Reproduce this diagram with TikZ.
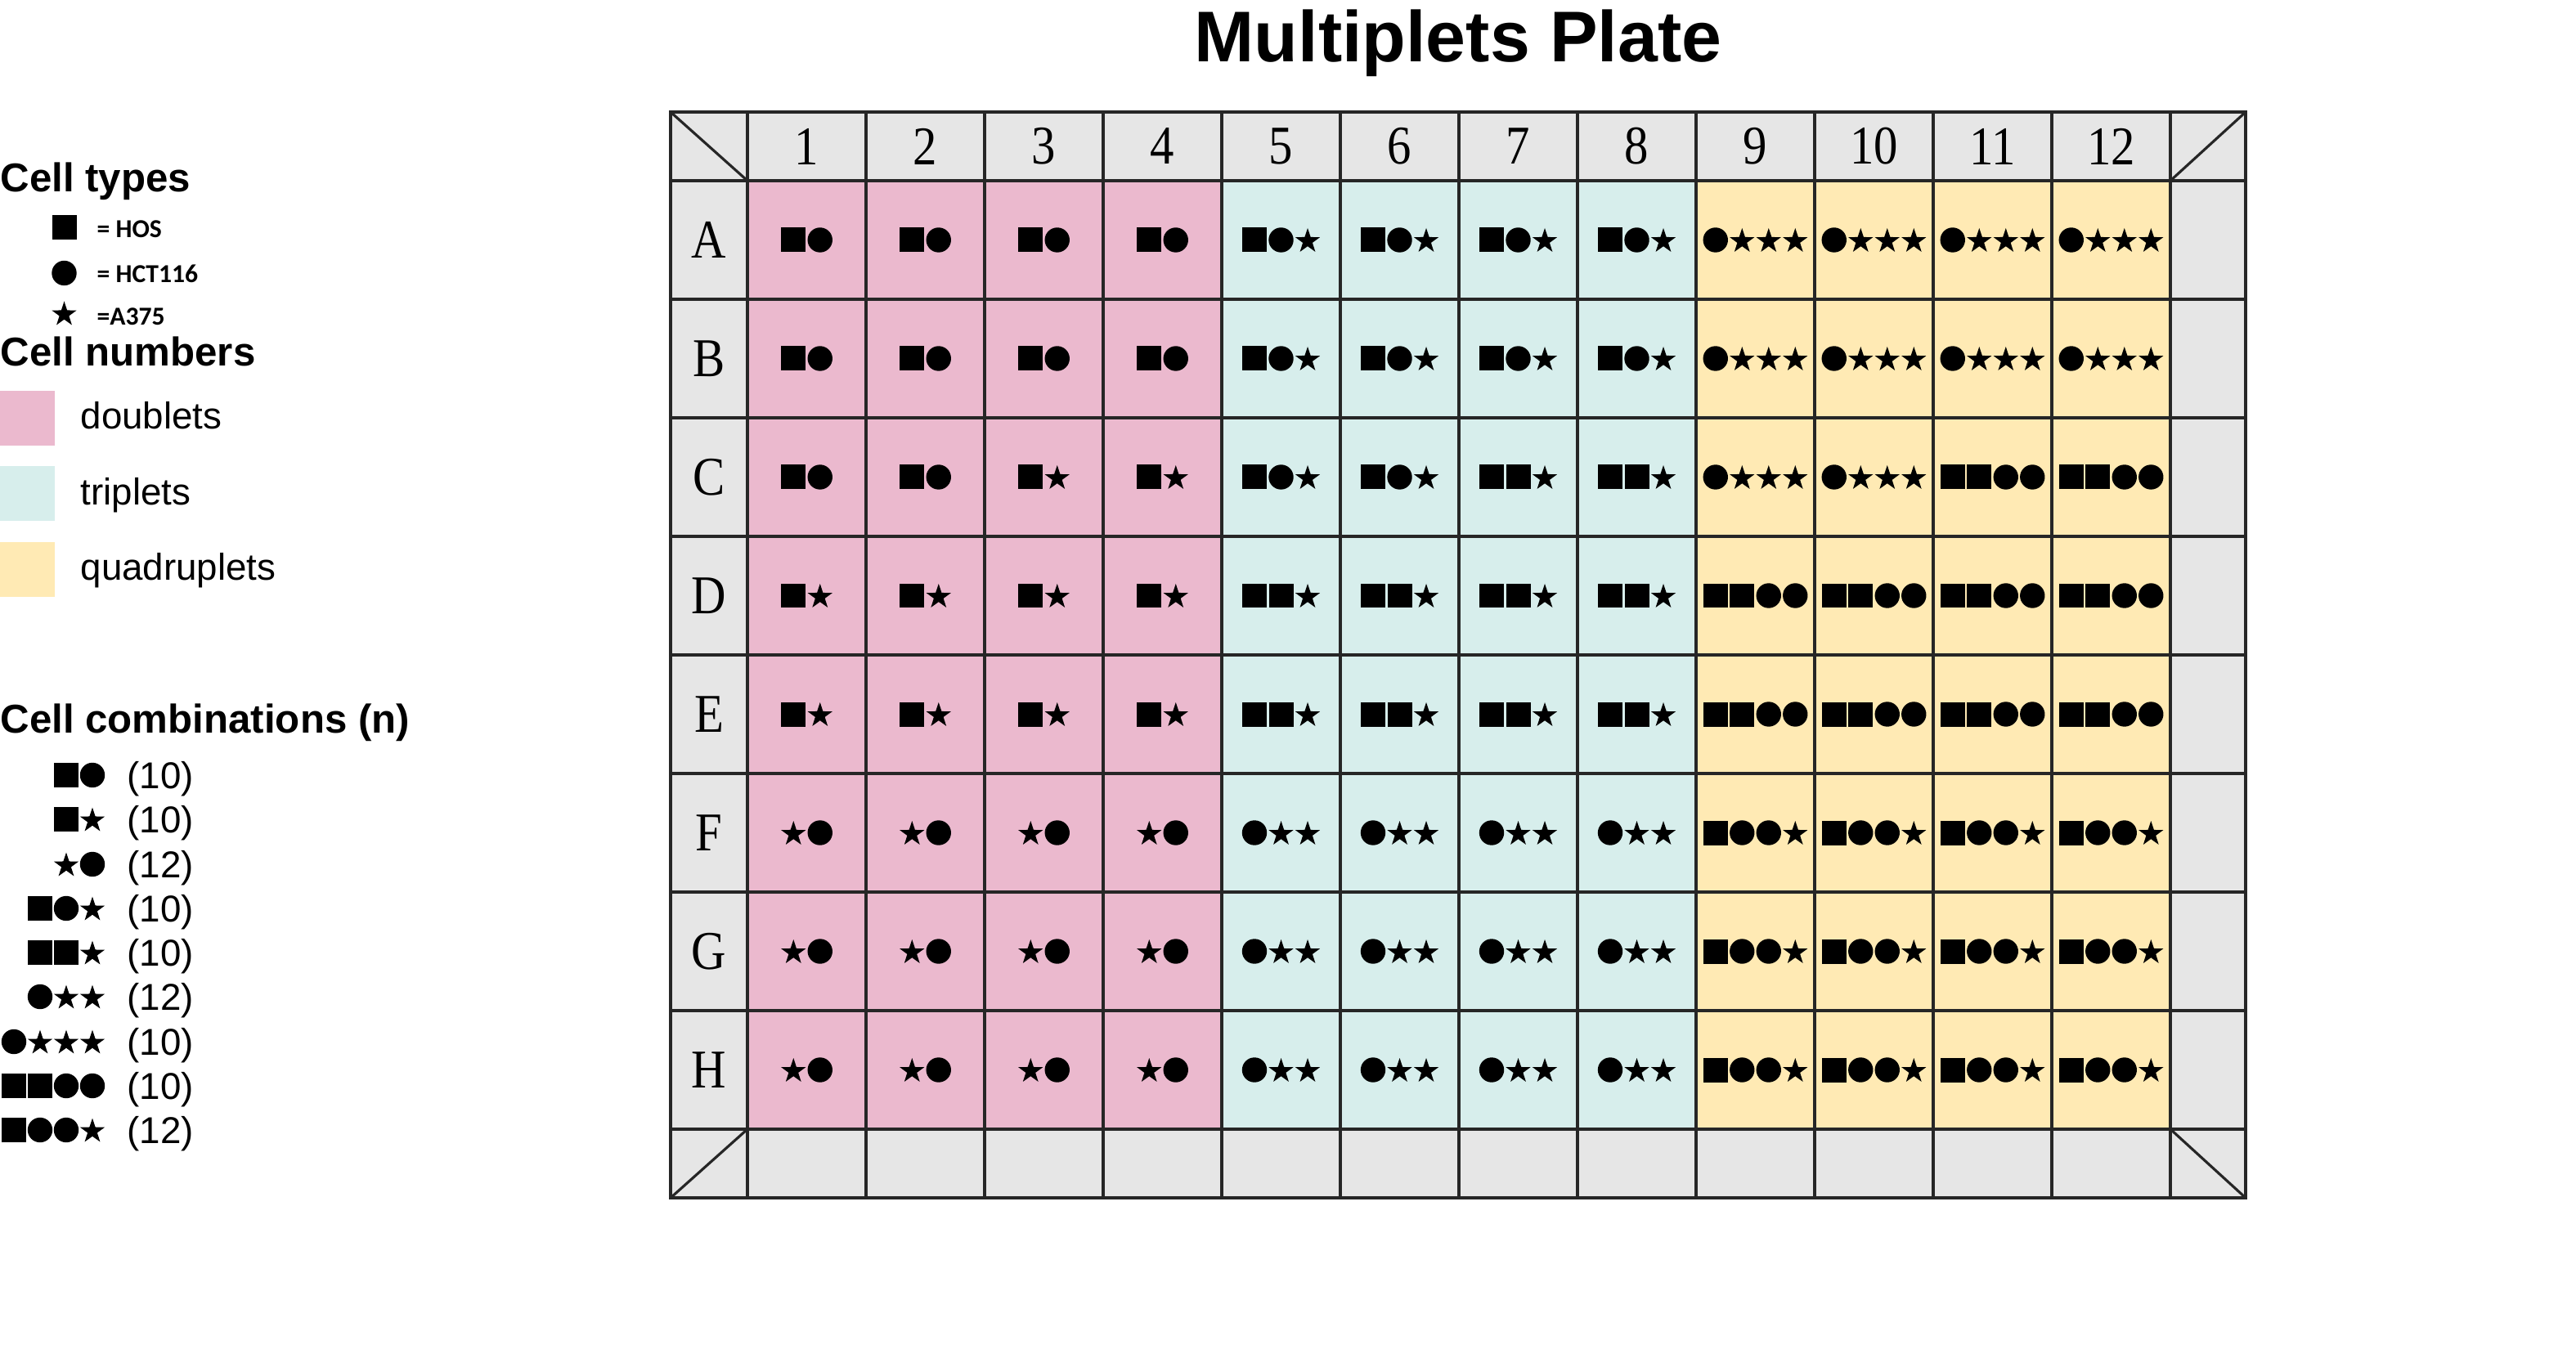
\documentclass[tikz,border=0pt]{standalone}
\usepackage{fontspec}
\setmainfont{Liberation Serif}
\setsansfont{Liberation Sans}
\newfontfamily\calfont{Carlito}
\usetikzlibrary{calc}

\definecolor{dblpink}{RGB}{235,185,206}
\definecolor{trpcyan}{RGB}{215,238,236}
\definecolor{qdryellow}{RGB}{255,234,180}
\definecolor{plategray}{RGB}{230,230,230}

\newcommand{\symS}[1]{\fill[shift={(#1)}] (-0.15,-0.15) rectangle (0.15,0.15);}
\newcommand{\symC}[1]{\fill[shift={(#1)}] (0,0) circle (0.152);}
\newcommand{\symT}[1]{\fill[shift={(#1)},yshift=-0.15mm] (90:0.16) -- (126:0.062) -- (162:0.16) -- (198:0.062) -- (234:0.16) -- (270:0.062) -- (306:0.16) -- (342:0.062) -- (18:0.16) -- (54:0.062) -- cycle;}
\newcommand{\wellsyms}[3]{\foreach \s [count=\k] in {#3} {\csname sym\s\endcsname{$(#1)+({(\k-0.5-#2/2)*0.325},0)$}}}
\newcommand{\legsyms}[3]{\foreach \s [count=\k] in {#3} {\csname sym\s\endcsname{{1.13-(#2-\k)*0.32},#1}}}

\begin{document}
\begin{tikzpicture}[
  well/.style={rectangle, inner sep=0, minimum width=1.45cm, minimum height=1.45cm},
  gridline/.style={draw=black!85, line width=0.9pt},
  platelabel/.style={font=\fontsize{19}{22}\selectfont, xscale=0.88, inner sep=0},
  head/.style={font=\sffamily\bfseries\fontsize{14}{16}\selectfont, anchor=base west, inner sep=0},
  legtext/.style={font=\sffamily\fontsize{13}{15}\selectfont, anchor=base west, inner sep=0},
  typetext/.style={font=\calfont\bfseries\fontsize{9}{11}\selectfont, anchor=base west, inner sep=0},
  legbox/.style={rectangle, inner sep=0, minimum width=0.67cm, minimum height=0.67cm}]
\useasboundingbox (0,0) rectangle (31.5,-16.78);

\node[font=\sffamily\bfseries\fontsize{25}{30}\selectfont, anchor=base, inner sep=0] (title) at (17.83,-0.76) {Multiplets Plate};

\fill[plategray] (8.20,-1.37) rectangle (27.46,-14.65);
\foreach \c in {1,...,4} \foreach \R [count=\r] in {A,...,H}
  \node[well, fill=dblpink] (\R\c) at ({9.14+(\c-0.5)*1.45},{-2.21-(\r-0.5)*1.45}) {};
\foreach \c in {5,...,8} \foreach \R [count=\r] in {A,...,H}
  \node[well, fill=trpcyan] (\R\c) at ({9.14+(\c-0.5)*1.45},{-2.21-(\r-0.5)*1.45}) {};
\foreach \c in {9,...,12} \foreach \R [count=\r] in {A,...,H}
  \node[well, fill=qdryellow] (\R\c) at ({9.14+(\c-0.5)*1.45},{-2.21-(\r-0.5)*1.45}) {};

\foreach \c in {0,...,12} \draw[gridline] ({9.14+\c*1.45},-1.37) -- ({9.14+\c*1.45},-14.65);
\foreach \r in {0,...,8} \draw[gridline] (8.20,{-2.21-\r*1.45}) -- (27.46,{-2.21-\r*1.45});
\draw[gridline, line width=1.2pt] (8.20,-1.37) rectangle (27.46,-14.65);
\draw[gridline] (8.20,-1.37) -- (9.14,-2.21);
\draw[gridline] (26.54,-2.21) -- (27.46,-1.37);
\draw[gridline] (8.20,-14.65) -- (9.14,-13.81);
\draw[gridline] (26.54,-13.81) -- (27.46,-14.65);

\foreach \c in {1,...,12} \node[platelabel] (n\c) at ({9.14+(\c-0.5)*1.45},-1.79) {\c};
\foreach \R [count=\r] in {A,...,H} \node[platelabel] (l\R) at (8.67,{-2.21-(\r-0.5)*1.45}) {\R};

\foreach \w in {A1,A2,A3,A4,B1,B2,B3,B4,C1,C2} \wellsyms{\w}{2}{S,C};
\foreach \w in {C3,C4,D1,D2,D3,D4,E1,E2,E3,E4} \wellsyms{\w}{2}{S,T};
\foreach \w in {F1,F2,F3,F4,G1,G2,G3,G4,H1,H2,H3,H4} \wellsyms{\w}{2}{T,C};
\foreach \w in {A5,A6,A7,A8,B5,B6,B7,B8,C5,C6} \wellsyms{\w}{3}{S,C,T};
\foreach \w in {C7,C8,D5,D6,D7,D8,E5,E6,E7,E8} \wellsyms{\w}{3}{S,S,T};
\foreach \w in {F5,F6,F7,F8,G5,G6,G7,G8,H5,H6,H7,H8} \wellsyms{\w}{3}{C,T,T};
\foreach \w in {A9,A10,A11,A12,B9,B10,B11,B12,C9,C10} \wellsyms{\w}{4}{C,T,T,T};
\foreach \w in {C11,C12,D9,D10,D11,D12,E9,E10,E11,E12} \wellsyms{\w}{4}{S,S,C,C};
\foreach \w in {F9,F10,F11,F12,G9,G10,G11,G12,H9,H10,H11,H12} \wellsyms{\w}{4}{S,C,C,T};

\node[head] (types) at (0,-2.35) {Cell types};
\symS{0.785,-2.78}
\symC{0.785,-3.34}
\symT{0.785,-3.83}
\node[typetext] (hos) at (1.18,-2.91) {= HOS};
\node[typetext] (hct) at (1.18,-3.46) {= HCT116};
\node[typetext] (a375) at (1.18,-3.98) {=A375};

\node[head] (numbers) at (0,-4.48) {Cell numbers};
\node[legbox, fill=dblpink] (kdbl) at (0.335,-5.12) {};
\node[legbox, fill=trpcyan] (ktrp) at (0.335,-6.04) {};
\node[legbox, fill=qdryellow] (kqdr) at (0.335,-6.965) {};
\node[legtext] (tdbl) at (0.98,-5.25) {doublets};
\node[legtext] (ttrp) at (0.98,-6.17) {triplets};
\node[legtext] (tqdr) at (0.98,-7.09) {quadruplets};

\node[head] (combos) at (0,-8.96) {Cell combinations (n)};
\legsyms{-9.48}{2}{S,C}
\node[legtext] (k1) at (1.55,-9.645) {(10)};
\legsyms{-10.02}{2}{S,T}
\node[legtext] (k2) at (1.55,-10.185) {(10)};
\legsyms{-10.57}{2}{T,C}
\node[legtext] (k3) at (1.55,-10.735) {(12)};
\legsyms{-11.11}{3}{S,C,T}
\node[legtext] (k4) at (1.55,-11.275) {(10)};
\legsyms{-11.65}{3}{S,S,T}
\node[legtext] (k5) at (1.55,-11.815) {(10)};
\legsyms{-12.19}{3}{C,T,T}
\node[legtext] (k6) at (1.55,-12.355) {(12)};
\legsyms{-12.74}{4}{C,T,T,T}
\node[legtext] (k7) at (1.55,-12.905) {(10)};
\legsyms{-13.28}{4}{S,S,C,C}
\node[legtext] (k8) at (1.55,-13.445) {(10)};
\legsyms{-13.82}{4}{S,C,C,T}
\node[legtext] (k9) at (1.55,-13.985) {(12)};
\end{tikzpicture}
\end{document}
